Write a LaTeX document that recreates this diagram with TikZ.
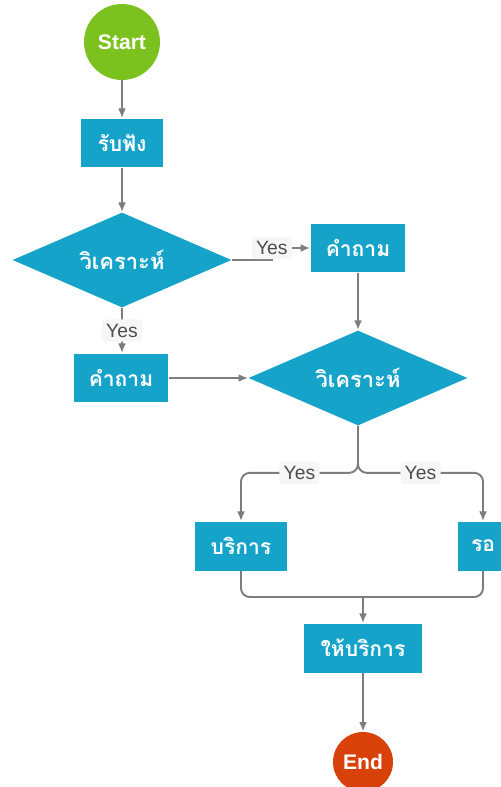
\documentclass[tikz,border=0pt]{standalone}
\usepackage{fontspec}
\setmainfont{Liberation Sans}
\newfontfamily\thaifont[Script=Thai]{Loma}
\usetikzlibrary{arrows.meta,positioning,shapes.geometric}
\definecolor{boxblue}{RGB}{22,163,201}
\definecolor{startgreen}{RGB}{124,194,30}
\definecolor{endred}{RGB}{216,66,10}
\definecolor{linegray}{RGB}{125,125,125}

\begin{document}
\begin{tikzpicture}[x=0.02cm,y=-0.02cm,
  box/.style={rectangle,fill=boxblue,text=white,inner sep=0pt,
    font=\thaifont\bfseries\fontsize{12}{14}\selectfont,minimum height=0.98cm},
  choice/.style={diamond,fill=boxblue,text=white,inner sep=0pt,aspect=2.3,
    font=\thaifont\bfseries\fontsize{12.5}{14}\selectfont,
    minimum width=4.38cm,minimum height=1.9cm},
  term/.style={circle,text=white,inner sep=0pt,
    font=\bfseries\fontsize{12}{14}\selectfont},
  line/.style={draw=linegray,line width=1.1pt},
  flow/.style={line,-{Latex[length=5.5pt,width=4.5pt]}},
  yes/.style={fill=gray!7,text=black!70,rounded corners=2pt,inner sep=2.5pt,
    font=\fontsize{11}{13}\selectfont}]

  \useasboundingbox (0,0) rectangle (500,787);

  % Nodes
  \node[term,fill=startgreen,minimum size=1.52cm] (start) at (122,42) {Start};
  \node[box,minimum width=1.64cm] (listen) at (122,143) {รับฟัง};
  \node[choice] (d1) at (122,260) {วิเคราะห์};
  \node[box,minimum width=1.9cm] (q1) at (358,248) {คำถาม};
  \node[box,minimum width=1.9cm] (q2) at (121,378) {คำถาม};
  \node[choice] (d2) at (358,378) {วิเคราะห์};
  \node[box,minimum width=1.84cm] (serv) at (241,546) {บริการ};
  \node[box,minimum width=1.0cm] (wait) at (483,546) {รอ};
  \node[box,minimum width=2.36cm] (give) at (363,648) {ให้บริการ};
  \node[term,fill=endred,minimum size=1.2cm] (end) at (363,762) {End};

  % Connectors
  \draw[flow] (start) -- (listen);
  \draw[flow] (listen) -- (d1);
  \draw[flow] (d1.east) -- ++(40,0) |- node[yes]{Yes} (q1.west);
  \draw[flow] (d1.south) -- node[yes]{Yes} (d1.south |- q2.north);
  \draw[flow] (q1.south) -- (d2.north);
  \draw[flow] (q2.east) -- (d2.west);
  \draw[flow,rounded corners=5pt] (d2.south) -- ++(0,47) -| node[yes,pos=0.25]{Yes} (serv.north);
  \draw[flow,rounded corners=5pt] (d2.south) -- ++(0,47) -| node[yes,pos=0.25]{Yes} (wait.north);

  % Merge
  \coordinate (m) at (363,597);
  \draw[line,rounded corners=5pt] (serv.south) |- (m) -| (wait.south);
  \draw[flow] (m) -- (give.north);
  \draw[flow] (give) -- (end);
\end{tikzpicture}
\end{document}
